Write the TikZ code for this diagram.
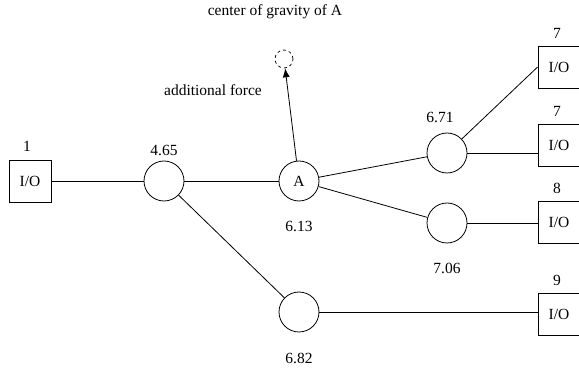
\documentclass[tikz,border=0pt]{standalone}
\usepackage{fontspec}
\setmainfont{Liberation Serif}
\usetikzlibrary{arrows.meta}
\begin{document}
\begin{tikzpicture}[x=1pt,y=-1pt,
  every node/.style={font=\rmfamily\fontsize{15.5}{18}\selectfont},
  io/.style={draw,line width=0.8pt,minimum width=42pt,minimum height=42pt,inner sep=0pt},
  knot/.style={draw,circle,line width=0.8pt,minimum size=40pt,inner sep=0pt},
  txt/.style={inner sep=0pt},
  conn/.style={line width=0.8pt}]
\useasboundingbox (0,0) rectangle (579,371);
\node[io] (b1) at (30,181) {I/O};
\node[io] (b7a) at (559,67) {I/O};
\node[io] (b7b) at (559,145) {I/O};
\node[io] (b8) at (559,222) {I/O};
\node[io] (b9) at (559,314) {I/O};
\node[knot] (k1) at (164,181) {};
\node[knot] (A) at (299,181) {A};
\node[knot] (k2) at (447,153) {};
\node[knot] (k3) at (447,223) {};
\node[knot] (k4) at (299,312) {};
\node[draw,circle,dashed,line width=0.7pt,minimum size=18pt,inner sep=0pt] (cg) at (284,59) {};
\node[txt] (l1) at (27,146) {1};
\node[txt] (l7a) at (557,33) {7};
\node[txt] (l7b) at (557,111) {7};
\node[txt] (l8) at (557,188) {8};
\node[txt] (l9) at (557,280) {9};
\node[txt] (l465) at (164,150) {4.65};
\node[txt] (l613) at (299,226) {6.13};
\node[txt] (l671) at (440,117) {6.71};
\node[txt] (l706) at (447,268) {7.06};
\node[txt] (l682) at (299,358) {6.82};
\node[txt] (lcg) at (275,12) {center of gravity of A};
\node[txt] (laf) at (213,90) {additional force};
\draw[conn] (b1) -- (k1);
\draw[conn] (k1) -- (A);
\draw[conn] (k1) -- (k4);
\draw[conn] (A) -- (k2);
\draw[conn] (A) -- (k3);
\draw[conn] (k2) -- (b7a.west);
\draw[conn] (k2) -- (k2 -| b7b.west);
\draw[conn] (k3) -- (k3 -| b8.west);
\draw[conn] (k4) -- (k4 -| b9.west);
\draw[conn,-{Latex[length=9pt,width=7pt]}] (A) -- (cg);
\end{tikzpicture}
\end{document}
